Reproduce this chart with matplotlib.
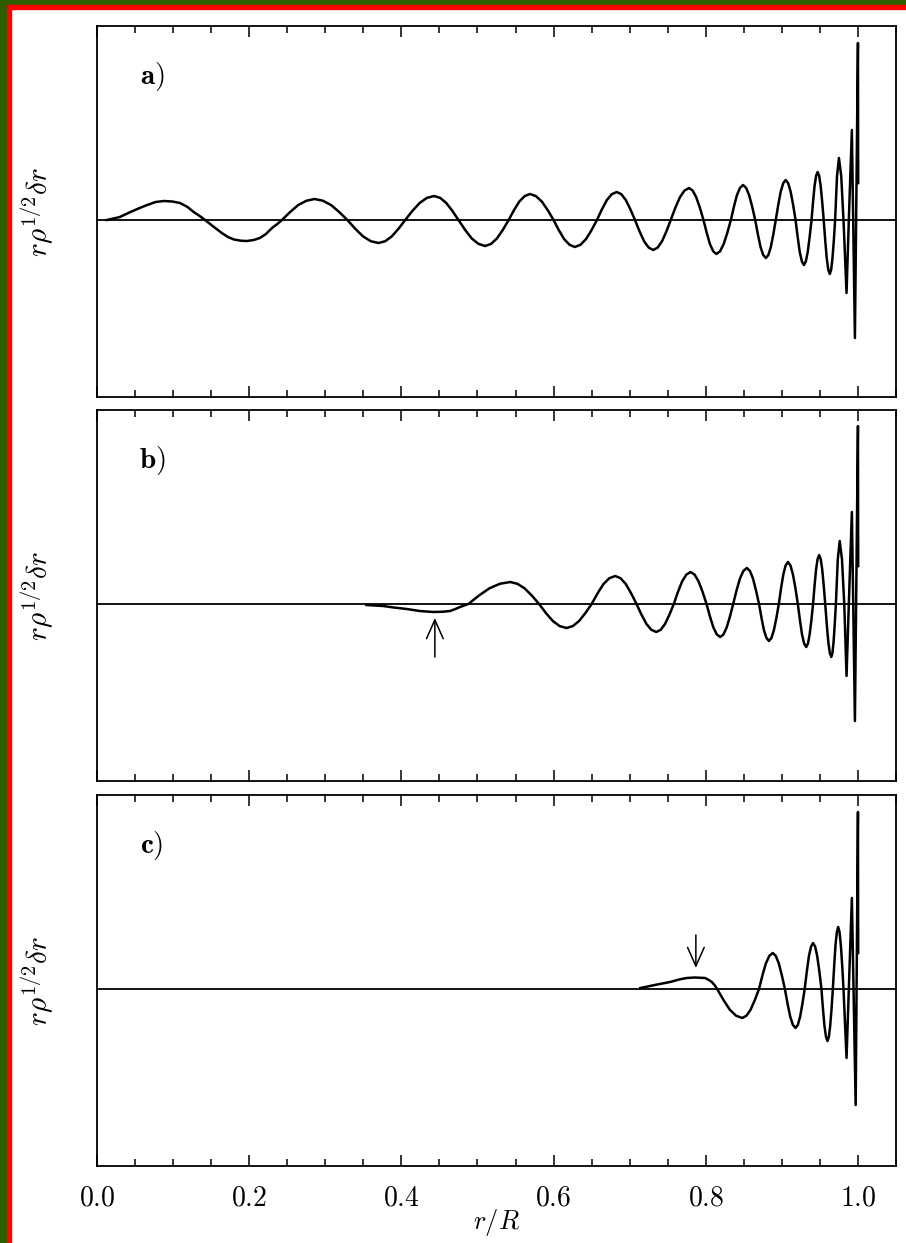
import numpy as np
import matplotlib
matplotlib.use("Agg")
import matplotlib.pyplot as plt
from matplotlib.ticker import MultipleLocator, FuncFormatter, NullLocator
from matplotlib.patches import Rectangle

plt.rcParams['mathtext.fontset'] = 'cm'
plt.rcParams['font.family'] = ['DejaVu Serif']

# 面板 a) —— r/R 与振幅（任意单位，读自原图）
r_a = [0.013, 0.030, 0.044, 0.056, 0.066, 0.077, 0.088, 0.099, 0.109, 0.119, 0.127, 0.135,
       0.142, 0.152, 0.164, 0.172, 0.180, 0.189, 0.197, 0.206, 0.214, 0.222, 0.230, 0.237,
       0.243, 0.2538, 0.2645, 0.2753, 0.286, 0.2968, 0.3075, 0.3183,
       0.329, 0.3393, 0.3495, 0.3598, 0.370, 0.3788, 0.3875, 0.3963,
       0.405, 0.4145, 0.424, 0.4335, 0.443, 0.451, 0.459, 0.467,
       0.475, 0.4838, 0.4925, 0.5013, 0.510, 0.5178, 0.5255, 0.5333,
       0.541, 0.548, 0.555, 0.562, 0.569, 0.5768, 0.5845, 0.5923,
       0.600, 0.607, 0.614, 0.621, 0.628, 0.6353, 0.6425, 0.6498,
       0.657, 0.6635, 0.670, 0.6765, 0.683, 0.689, 0.695, 0.701,
       0.707, 0.713, 0.719, 0.725, 0.731, 0.7368, 0.7425, 0.7483,
       0.754, 0.760, 0.766, 0.772, 0.778, 0.7828, 0.7875, 0.7923,
       0.797, 0.8013, 0.8055, 0.8098, 0.814, 0.8188, 0.8235, 0.8283,
       0.833, 0.837, 0.841, 0.845, 0.849, 0.853, 0.857, 0.861,
       0.865, 0.8685, 0.872, 0.8755, 0.879, 0.8823, 0.8855, 0.8888,
       0.892, 0.8953, 0.8985, 0.9018, 0.905, 0.9083, 0.9115, 0.9148,
       0.918, 0.9208, 0.9235, 0.9263, 0.929, 0.9315, 0.934, 0.9365,
       0.939, 0.941, 0.943, 0.945, 0.947, 0.949, 0.951, 0.953,
       0.955, 0.957, 0.959, 0.961, 0.963, 0.9648, 0.9665, 0.9683,
       0.970, 0.9725, 0.975, 0.978, 0.981, 0.985, 0.988, 0.992, 0.996, 1.000, 1.0003]
amp_a = [0, 3, 8, 12, 15, 18, 19, 18.5, 17, 13, 8, 4,
         0, -6, -13, -17, -19.5, -20.7, -21, -20, -18, -14, -8, -4,
         0, 8, 15, 19.3, 21, 19.3, 15, 8,
         0, -8.7, -16.3, -21.2, -23, -21.2, -16.3, -8.7,
         0, 9.1, 17, 22.1, 24, 22.1, 17, 9.1,
         0, -9.9, -18.5, -23.9, -26, -23.9, -18.5, -9.9,
         0, 9.9, 18.5, 23.9, 26, 23.9, 18.5, 9.9,
         0, -10.3, -19.2, -24.8, -27, -24.8, -19.2, -10.3,
         0, 10.6, 19.9, 25.8, 28, 25.8, 19.9, 10.6,
         0, -11.4, -21.3, -27.6, -30, -27.6, -21.3, -11.4,
         0, 12.2, 22.7, 29.4, 32, 29.4, 22.7, 12.2,
         0, -12.9, -24.1, -31.3, -34, -31.3, -24.1, -12.9,
         0, 13.3, 24.9, 32.2, 35, 32.2, 24.9, 13.3,
         0, -14.4, -27, -35, -38, -35, -27, -14.4,
         0, 15.2, 28.4, 36.8, 40, 36.8, 28.4, 15.2,
         0, -17.1, -32, -41.4, -45, -41.4, -32, -17.1,
         0, 18.2, 34.1, 44.2, 48, 44.2, 34.1, 18.2,
         0, -20.5, -38.3, -49.7, -54, -49.7, -38.3, -20.5,
         0, 44, 62, 44, 0, -73, 0, 90, -118, 177, 37]

# 面板 b)
r_b = [0.354, 0.376, 0.390, 0.407, 0.424, 0.442, 0.455, 0.464, 0.471, 0.477,
       0.488, 0.5018, 0.5155, 0.5293, 0.543, 0.5525, 0.562, 0.5715,
       0.581, 0.590, 0.599, 0.608, 0.617, 0.6253, 0.6335, 0.6418,
       0.650, 0.6578, 0.6655, 0.6733, 0.681, 0.688, 0.695, 0.702,
       0.709, 0.7155, 0.722, 0.7285, 0.735, 0.7408, 0.7465, 0.7523,
       0.758, 0.7635, 0.769, 0.7745, 0.780, 0.7853, 0.7905, 0.7958,
       0.801, 0.8055, 0.810, 0.8145, 0.819, 0.8233, 0.8275, 0.8318,
       0.836, 0.8405, 0.845, 0.8495, 0.854, 0.858, 0.862, 0.866,
       0.870, 0.8733, 0.8765, 0.8798, 0.883, 0.8863, 0.8895, 0.8928,
       0.896, 0.899, 0.902, 0.905, 0.908, 0.9113, 0.9145, 0.9178,
       0.921, 0.9238, 0.9265, 0.9293, 0.932, 0.9343, 0.9365, 0.9388,
       0.941, 0.943, 0.945, 0.947, 0.949, 0.951, 0.953, 0.955,
       0.957, 0.959, 0.961, 0.963, 0.965, 0.9665, 0.968, 0.9695,
       0.971, 0.9735, 0.976, 0.979, 0.982, 0.985, 0.988, 0.992, 0.996, 1.000, 1.0003]
amp_b = [-1, -2, -3.5, -5, -7, -8, -7.7, -7, -5, -3,
         0, 8.4, 15.6, 20.2, 22, 20.2, 15.6, 8.4,
         0, -9.1, -17, -22.1, -24, -22.1, -17, -9.1,
         0, 10.6, 19.9, 25.8, 28, 25.8, 19.9, 10.6,
         0, -10.6, -19.9, -25.8, -28, -25.8, -19.9, -10.6,
         0, 12.2, 22.7, 29.4, 32, 29.4, 22.7, 12.2,
         0, -12.5, -23.4, -30.4, -33, -30.4, -23.4, -12.5,
         0, 13.7, 25.6, 33.1, 36, 33.1, 25.6, 13.7,
         0, -14.1, -26.3, -34, -37, -34, -26.3, -14.1,
         0, 16, 29.8, 38.6, 42, 38.6, 29.8, 16,
         0, -16.3, -30.5, -39.6, -43, -39.6, -30.5, -16.3,
         0, 18.6, 34.8, 45.1, 49, 45.1, 34.8, 18.6,
         0, -20.1, -37.6, -48.8, -53, -48.8, -37.6, -20.1,
         0, 44.7, 63, 44.7, 0, -72, 0, 92, -117, 178, 38]

# 面板 c)
r_c = [0.714, 0.733, 0.753, 0.765, 0.775, 0.786, 0.799, 0.804, 0.808, 0.812,
       0.815, 0.8233, 0.8315, 0.8398, 0.848, 0.8535, 0.859, 0.8645,
       0.870, 0.8745, 0.879, 0.8835, 0.888, 0.892, 0.896, 0.900,
       0.904, 0.9075, 0.911, 0.9145, 0.918, 0.921, 0.924, 0.927,
       0.930, 0.9328, 0.9355, 0.9383, 0.941, 0.9438, 0.9465, 0.9493,
       0.952, 0.954, 0.956, 0.958, 0.960, 0.9618, 0.9635, 0.9653,
       0.967, 0.9688, 0.9705, 0.9723, 0.974, 0.9758, 0.9775, 0.9793,
       0.981, 0.985, 0.988, 0.992, 0.997, 1.000, 1.0003]
amp_c = [1, 4, 7, 9.5, 11, 11.5, 11, 9, 7, 3.5,
         0, -11, -20.6, -26.7, -29, -26.7, -20.6, -11,
         0, 13.7, 25.6, 33.1, 36, 33.1, 25.6, 13.7,
         0, -14.8, -27.7, -35.9, -39, -35.9, -27.7, -14.8,
         0, 17.5, 32.7, 42.3, 46, 42.3, 32.7, 17.5,
         0, -19.8, -36.9, -47.8, -52, -47.8, -36.9, -19.8,
         0, 23.6, 44, 57, 62, 57, 44, 23.6,
         0, -69, 0, 91, -116, 177, 36]

# 箭头（位置 r/R，箭尖与箭尾的振幅）
arrow_b = (0.444, -14, -53)
arrow_c = (0.787, 21, 54)

panel_labels = ['a)', 'b)', 'c)']

W, H = 906, 1243
fig = plt.figure(figsize=(W / 100, H / 100), dpi=100)
fig.patch.set_facecolor('white')

# 边框：绿色外边 + 红色内线（只在左边和上边）
green = '#2e5c00'
fig.patches.append(Rectangle((0, 0), 7.3 / W, 1, transform=fig.transFigure, color=green, zorder=0))
fig.patches.append(Rectangle((0, 1 - 5 / H), 1, 5 / H, transform=fig.transFigure, color=green, zorder=0))
fig.patches.append(Rectangle((7.3 / W, 0), 3.7 / W, 1 - 5 / H, transform=fig.transFigure, color='#ff0000', zorder=0))
fig.patches.append(Rectangle((7.3 / W, 1 - 9 / H), 1, 4 / H, transform=fig.transFigure, color='#ff0000', zorder=0))

left = 97 / W
width = 799 / W
height = 371 / H
tops = [26, 410, 795]

data = [(r_a, amp_a, None), (r_b, amp_b, arrow_b), (r_c, amp_c, arrow_c)]

for i, (rr, yy, arr) in enumerate(data):
    bottom = 1 - (tops[i] + 371) / H
    ax = fig.add_axes([left, bottom, width, height])
    ax.set_xlim(0, 1.05)
    ax.set_ylim(-177, 194)
    ax.axhline(0, color='black', lw=1.3)
    ax.plot(rr, yy, color='black', lw=1.8)

    if arr is not None:
        ax.annotate('', xy=(arr[0], arr[1]), xytext=(arr[0], arr[2]),
                    arrowprops=dict(arrowstyle='->,head_length=1.35,head_width=0.6',
                                    lw=1.1, color='black', mutation_scale=10,
                                    shrinkA=0, shrinkB=0))

    ax.text(0.069, 0.865, r'$\mathbf{' + panel_labels[i] + '}$', transform=ax.transAxes,
            fontsize=21, ha='center', va='center')

    ax.xaxis.set_major_locator(MultipleLocator(0.2))
    ax.xaxis.set_minor_locator(MultipleLocator(0.05))
    ax.yaxis.set_major_locator(NullLocator())
    ax.tick_params(axis='x', which='both', direction='in', top=True, bottom=True, width=1.1)
    ax.tick_params(axis='x', which='major', length=8)
    ax.tick_params(axis='x', which='minor', length=5)
    for s in ax.spines.values():
        s.set_linewidth(1.3)

    ax.set_ylabel(r'$r\rho^{1/2}\delta r$', fontsize=21, va='center')
    ax.yaxis.set_label_coords(-0.075, 0.5)

    if i == 2:
        ax.xaxis.set_major_formatter(FuncFormatter(lambda v, p: r'$\mathbf{%.1f}$' % v))
        ax.tick_params(axis='x', which='major', labelsize=20, pad=13)
        ax.set_xlabel(r'$r/R$', fontsize=19, labelpad=-3)
    else:
        ax.set_xticklabels([])

fig.savefig('out.png', dpi=100, facecolor=fig.get_facecolor())
